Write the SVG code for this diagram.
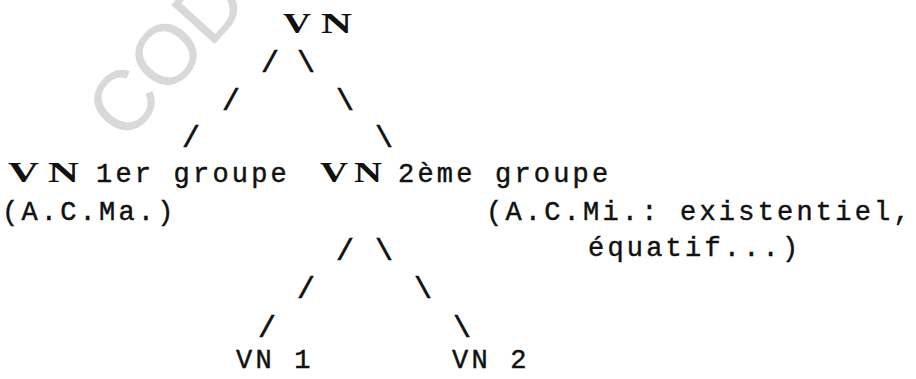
<svg xmlns="http://www.w3.org/2000/svg" width="916" height="379" viewBox="0 0 916 379">
<style>
.wm { font-family: "Liberation Sans", Arial, sans-serif; font-size: 85px; fill: #d9d9d9; }
.m { font-family: "Liberation Mono", "Courier New", monospace; font-size: 27px; letter-spacing: 3.2px; fill: #111; stroke: #111; stroke-width: 0.45px; }
.b { font-family: "Liberation Serif", "Times New Roman", serif; font-weight: bold; font-size: 29px; fill: #111; }
.s { font-family: "Liberation Mono", "Courier New", monospace; font-size: 30px; text-anchor: middle; fill: #111; stroke: #111; stroke-width: 0.6px; }
</style>
<rect width="916" height="379" fill="#ffffff"/>
<text class="wm" transform="translate(124.6,144) rotate(-48)">CODESRIA</text>
<g id="connectors">
  <text class="s" x="270" y="72">/</text>
  <text class="s" x="306" y="72">\</text>
  <text class="s" x="231" y="110">/</text>
  <text class="s" x="345" y="110">\</text>
  <text class="s" x="191" y="147">/</text>
  <text class="s" x="384" y="147">\</text>
  <text class="s" x="345" y="260">/</text>
  <text class="s" x="384" y="260">\</text>
  <text class="s" x="306" y="298">/</text>
  <text class="s" x="423" y="298">\</text>
  <text class="s" x="267" y="337">/</text>
  <text class="s" x="462" y="337">\</text>
</g>
<g id="node-vn-root">
  <text class="b" x="283" y="33" textLength="28" lengthAdjust="spacingAndGlyphs">V</text>
  <text class="b" x="321" y="33" textLength="31" lengthAdjust="spacingAndGlyphs">N</text>
</g>
<g id="node-vn-1er">
  <text class="b" x="8" y="182" textLength="31" lengthAdjust="spacingAndGlyphs">V</text>
  <text class="b" x="48" y="182" textLength="31" lengthAdjust="spacingAndGlyphs">N</text>
  <text class="m" x="96" y="182">1er groupe</text>
  <text class="m" x="2" y="220">(A.C.Ma.)</text>
</g>
<g id="node-vn-2eme">
  <text class="b" x="320" y="182" textLength="28" lengthAdjust="spacingAndGlyphs">V</text>
  <text class="b" x="354" y="182" textLength="28" lengthAdjust="spacingAndGlyphs">N</text>
  <text class="m" x="398" y="182">2ème groupe</text>
  <text class="m" x="486" y="220">(A.C.Mi.: existentiel,</text>
  <text class="m" x="588" y="256">équatif...)</text>
</g>
<g id="node-vn1">
  <text class="m" x="236" y="368">VN 1</text>
</g>
<g id="node-vn2">
  <text class="m" x="452" y="368">VN 2</text>
</g>
</svg>
